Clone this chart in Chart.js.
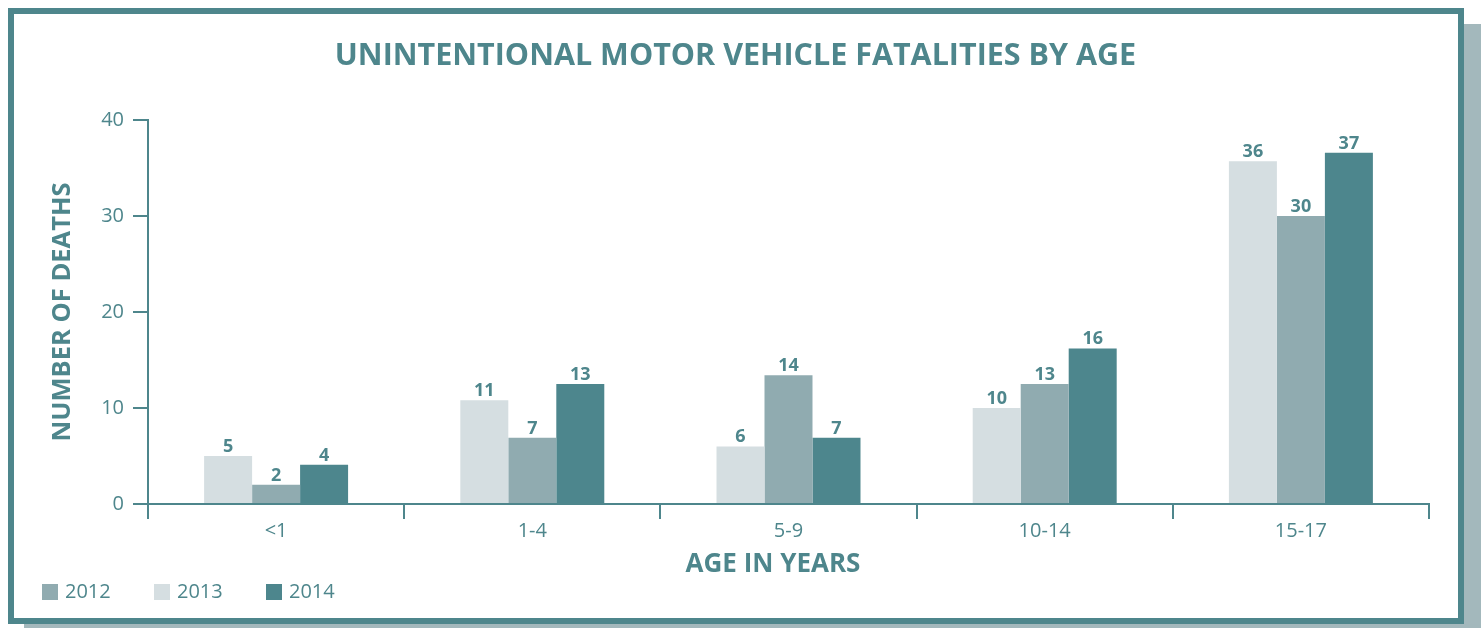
<!DOCTYPE html>
<html>
<head>
<meta charset="utf-8">
<script src="https://cdn.jsdelivr.net/npm/chart.js@4/dist/chart.umd.min.js"></script>
<style>
  html, body { margin: 0; padding: 0; background: #ffffff; }
  #wrap { position: relative; width: 1481px; height: 628px; overflow: hidden; }
  #shadow { position: absolute; left: 24px; top: 24px; width: 1457px; height: 604px; background: #a3b8bc; }
  #frame { position: absolute; left: 8px; top: 8px; width: 1456px; height: 616px; box-sizing: border-box;
           border: 6px solid #4e868c; background: #ffffff; }
  #c { position: absolute; left: 0; top: 0; }
</style>
</head>
<body>
<div id="wrap">
  <div id="shadow"></div>
  <div id="frame"></div>
  <canvas id="c" width="1481" height="628"></canvas>
</div>
<script>
// ---- data ----
const categories = ['<1', '1-4', '5-9', '10-14', '15-17'];
// bar heights (as drawn)
const values2013 = [5, 10.8, 6, 10, 35.7];
const values2012 = [2, 6.9, 13.4, 12.5, 30];
const values2014 = [4.1, 12.5, 6.9, 16.2, 36.6];
// printed value labels
const labels2013 = [5, 11, 6, 10, 36];
const labels2012 = [2, 7, 14, 13, 30];
const labels2014 = [4, 13, 7, 16, 37];
const yTicks = [0, 10, 20, 30, 40];

const TEAL = '#4e868c';
const FONT = "'Open Sans', 'DejaVu Sans', sans-serif";
const X_TITLE = 'AGE IN YEARS';

const valueLabels = {
  id: 'valueLabels',
  afterDatasetsDraw(chart) {
    const ctx = chart.ctx;
    ctx.save();
    ctx.font = "bold 18px " + FONT;
    ctx.fillStyle = TEAL;
    ctx.textAlign = 'center';
    ctx.textBaseline = 'alphabetic';
    chart.data.datasets.forEach((ds, i) => {
      const meta = chart.getDatasetMeta(i);
      meta.data.forEach((bar, j) => {
        ctx.fillText(String(ds.printed[j]), bar.x, bar.y - 4);
      });
    });
    ctx.restore();
  }
};

const xTitle = {
  id: 'xTitle',
  afterDraw(chart) {
    const ctx = chart.ctx;
    ctx.save();
    ctx.font = "bold 26px " + FONT;
    ctx.fillStyle = TEAL;
    ctx.textAlign = 'center';
    ctx.textBaseline = 'middle';
    ctx.fillText(X_TITLE, 773, 565);
    ctx.restore();
  }
};

const customLegend = {
  id: 'customLegend',
  afterDraw(chart) {
    const ctx = chart.ctx;
    const items = chart.data.datasets.map(ds => ({ label: ds.label, color: ds.backgroundColor }))
      .sort((a, b) => a.label.localeCompare(b.label));
    ctx.save();
    ctx.font = "20px " + FONT;
    ctx.textBaseline = 'middle';
    ctx.textAlign = 'left';
    let x = 42;
    const y = 584;
    items.forEach(it => {
      ctx.fillStyle = it.color;
      ctx.fillRect(x, y, 16, 16);
      ctx.fillStyle = TEAL;
      ctx.fillText(it.label, x + 23, y + 8);
      x += 112;
    });
    ctx.restore();
  }
};

new Chart(document.getElementById('c'), {
  type: 'bar',
  data: {
    labels: categories,
    datasets: [
      { label: '2013', data: values2013, printed: labels2013, backgroundColor: '#d5dee1' },
      { label: '2012', data: values2012, printed: labels2012, backgroundColor: '#90abb0' },
      { label: '2014', data: values2014, printed: labels2014, backgroundColor: '#4d868d' }
    ]
  },
  options: {
    responsive: false,
    animation: false,
    devicePixelRatio: 1,
    layout: { padding: { left: 42, right: 52, top: 20, bottom: 40 } },
    datasets: { bar: { categoryPercentage: 0.562, barPercentage: 1.0 } },
    plugins: {
      legend: { display: false },
      tooltip: { enabled: false },
      title: {
        display: true,
        text: 'UNINTENTIONAL MOTOR VEHICLE FATALITIES BY AGE',
        color: TEAL,
        font: { family: FONT, size: 30.5, weight: 'bold', lineHeight: 1.2 },
        padding: { top: 17.7, bottom: 45.7 }
      }
    },
    scales: {
      x: {
        offset: true,
        grid: { display: true, offset: true, drawOnChartArea: false, drawTicks: true, tickLength: 15, color: TEAL, lineWidth: 2 },
        border: { display: true, color: TEAL, width: 2 },
        ticks: { color: TEAL, font: { family: FONT, size: 20 }, padding: 0 },
        title: { display: false },
        afterFit(scale) { scale.height = 628 - 40 - 504; }
      },
      y: {
        min: 0, max: 40,
        afterBuildTicks(scale) { scale.ticks = yTicks.map(v => ({ value: v })); },
        grid: { display: true, drawOnChartArea: false, drawTicks: true, tickLength: 15, color: TEAL, lineWidth: 2 },
        border: { display: true, color: TEAL, width: 2 },
        ticks: { color: TEAL, font: { family: FONT, size: 20 }, padding: 9 },
        title: { display: true, text: 'NUMBER OF DEATHS', color: TEAL, font: { family: FONT, size: 25.5, weight: 'bold', lineHeight: 1.2 }, padding: { top: 5.7, bottom: 4 } },
        afterFit(scale) { scale.width = 148 - 42; }
      }
    }
  },
  plugins: [valueLabels, xTitle, customLegend]
});
</script>
</body>
</html>
